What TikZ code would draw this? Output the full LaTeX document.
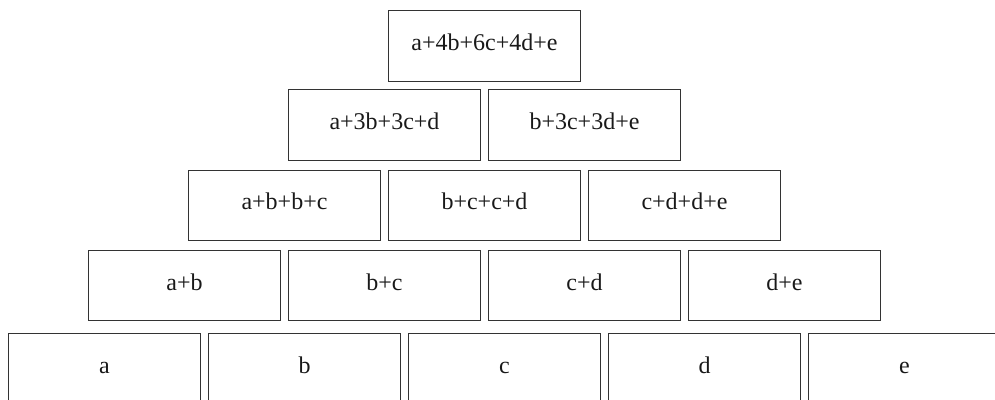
\documentclass[tikz,border=0pt]{standalone}
\usepackage{fontspec}
\setmainfont{Liberation Serif}
\begin{document}
\begin{tikzpicture}[x=1pt,y=-1pt,
  cell/.style={draw=black!80, line width=1pt, rectangle, inner sep=0pt,
    minimum width=192pt, minimum height=70.7pt,
    text height=12pt, text depth=3pt, text=black!90,
    font=\fontsize{24}{26}\selectfont}]
\useasboundingbox (0,0) rectangle (995,399);
\clip (0,0) rectangle (995,399);
% row 1
\node[cell, minimum height=70.5pt] (r1a) at (484.5,45.75) {a+4b+6c+4d+e};
% row 2
\node[cell] (r2a) at (384.5,124.7) {a+3b+3c+d};
\node[cell] (r2b) at (584.5,124.7) {b+3c+3d+e};
% row 3
\node[cell] (r3a) at (284.5,205.35) {a+b+b+c};
\node[cell] (r3b) at (484.5,205.35) {b+c+c+d};
\node[cell] (r3c) at (684.5,205.35) {c+d+d+e};
% row 4
\node[cell] (r4a) at (184.5,285.5) {a+b};
\node[cell] (r4b) at (384.5,285.5) {b+c};
\node[cell] (r4c) at (584.5,285.5) {c+d};
\node[cell] (r4d) at (784.5,285.5) {d+e};
% row 5
\node[cell] (r5a) at (104.5,368.5) {a};
\node[cell] (r5b) at (304.5,368.5) {b};
\node[cell] (r5c) at (504.5,368.5) {c};
\node[cell] (r5d) at (704.5,368.5) {d};
\node[cell] (r5e) at (904.5,368.5) {e};
\end{tikzpicture}
\end{document}
